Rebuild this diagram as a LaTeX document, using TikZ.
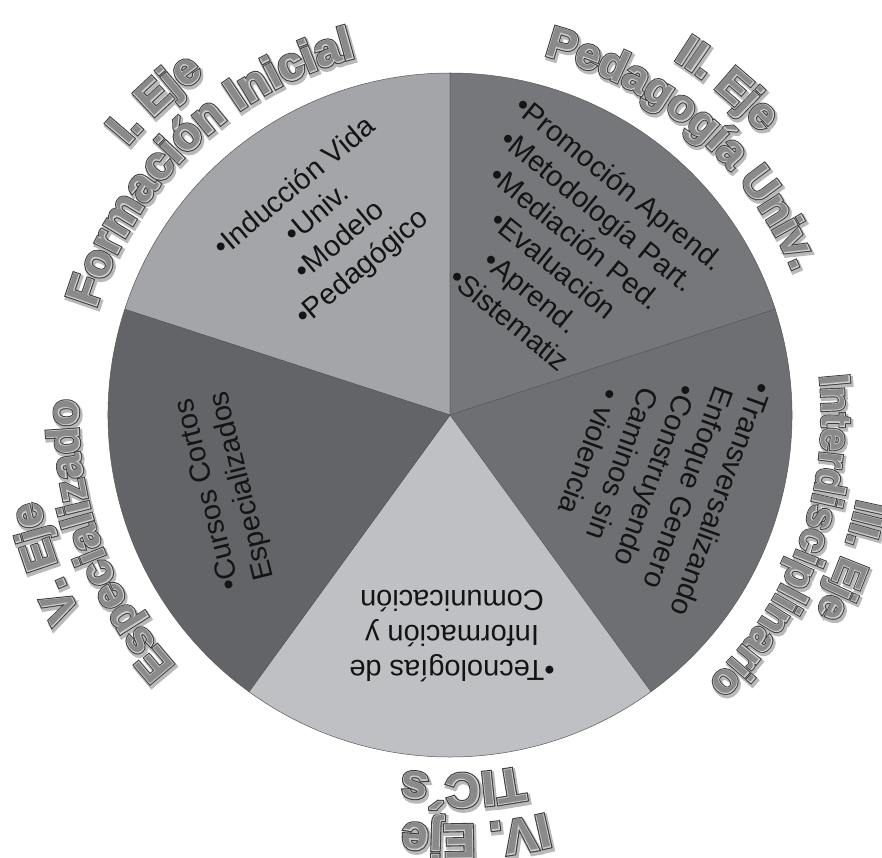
\documentclass[tikz,border=0pt]{standalone}
\usepackage{fontspec}
\setmainfont{Liberation Sans}
\usetikzlibrary{decorations.text}
\newfontfamily\ttlplain{Liberation Sans}
\newfontfamily\ttlhil{Liberation Sans}[BoldFeatures={FakeBold=3.5}]
\newfontfamily\ttlout{Liberation Sans}[BoldFeatures={FakeBold=8}]
\newfontfamily\ttlsh{Liberation Sans}[BoldFeatures={FakeBold=12}]
\definecolor{secI}{RGB}{164,165,169}
\definecolor{secII}{RGB}{118,119,123}
\definecolor{secIII}{RGB}{110,111,115}
\definecolor{secIV}{RGB}{191,192,196}
\definecolor{secV}{RGB}{99,100,104}
\definecolor{shc}{RGB}{185,185,185}
\definecolor{outc}{RGB}{60,60,60}
\definecolor{hilc}{RGB}{205,205,205}
\definecolor{fillc}{RGB}{138,138,138}
\newcommand\tsz{42}
\newcommand\tszsel{\fontsize{\tsz}{50}\selectfont\bfseries}
\newcommand\fmtsh{\ttlsh\tszsel\color{shc}}
\newcommand\fmtout{\ttlout\tszsel\color{outc}}
\newcommand\fmthil{\ttlhil\tszsel\color{hilc}}
\newcommand\fmtfill{\ttlplain\tszsel\color{fillc}}
\newcommand\ttlpath[4]{%
  \path[decorate,decoration={text along path,text align=center,text={|#1|#4}}]
    ({#2+70}:#3pt) arc[start angle={#2+70},end angle={#2-70},radius=#3pt];}
% #1 size, #2 centre angle, #3 baseline radius, #4 text
\newcommand\ttl[4]{%
  \renewcommand\tsz{#1}%
  \begin{scope}[shift={(1.5,-2.5)}]\ttlpath{\fmtsh}{#2}{#3}{#4}\end{scope}
  \ttlpath{\fmtout}{#2}{#3}{#4}
  \ttlpath{\fmthil}{#2}{#3}{#4}
  \ttlpath{\fmtfill}{#2}{#3}{#4}}
\tikzset{
  sector/.style={draw=black!65,line width=0.5pt,line join=round},
  inner/.style={align=center,inner sep=0pt,text=black!92,
    font=\fontsize{29}{35}\selectfont}
}
\begin{document}
\begin{tikzpicture}[x=1pt,y=1pt]
\fill[white] (-450,-442) rectangle (432,415);
\useasboundingbox (-450,-442) rectangle (432,415);
\coordinate (c) at (0,0);
% sectors
\filldraw[sector,fill=secI]   (c) -- (90:342pt)   arc[start angle=90,end angle=162,radius=342pt] -- cycle;
\filldraw[sector,fill=secII]  (c) -- (18:342pt)   arc[start angle=18,end angle=90,radius=342pt] -- cycle;
\filldraw[sector,fill=secIII] (c) -- (-54:342pt)  arc[start angle=-54,end angle=18,radius=342pt] -- cycle;
\filldraw[sector,fill=secIV]  (c) -- (-126:342pt) arc[start angle=-126,end angle=-54,radius=342pt] -- cycle;
\filldraw[sector,fill=secV]   (c) -- (162:342pt)  arc[start angle=162,end angle=234,radius=342pt] -- cycle;
% sector texts
\node[inner,rotate=40] (tI) at (-121,187) {•Inducción Vida\\•Univ.\\•Modelo\\•Pedagógico};
\node[inner,rotate=-39] (tII) at (115,164) {•Promoción Aprend.\\•Metodología Part.\\•Mediación Ped.\\•Evaluación\\•Aprend.\\•Sistematiz};
\node[inner,rotate=-110] (tIII) at (206,-61) {•Transversalizando\\Enfoque Genero\\•Construyendo\\Caminos sin\\• violencia};
\node[inner,rotate=180] (tIV) at (2,-221) {•Tecnologías de\\Información y\\Comunicación};
\node[inner,rotate=104] (tV) at (-224,-75) {•Cursos Cortos\\Especializados};
% titles
\ttl{45}{133}{420}{I. Eje}
\ttl{46}{134}{370}{Formación Inicial}
\ttl{44}{50}{420}{II. Eje}
\ttl{44}{49}{372}{Pedagogía Univ.}
\ttl{42}{-20}{416}{III. Eje}
\ttl{42}{-20}{372}{Interdisciplinario}
\ttl{48}{-86.5}{410}{IV. Eje}
\ttl{48}{-88}{359}{TIC´s}
\ttl{44}{200}{420}{V. Eje}
\ttl{44}{200}{372}{Especializado}
\end{tikzpicture}
\end{document}
